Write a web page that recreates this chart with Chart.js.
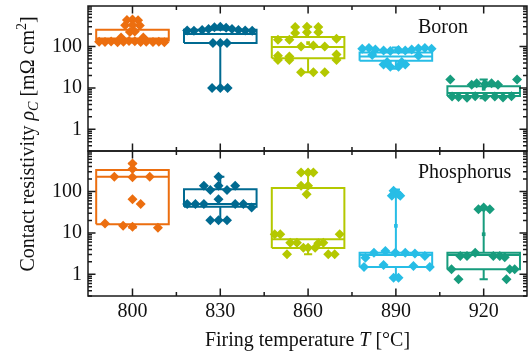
<!DOCTYPE html>
<html>
<head>
<meta charset="utf-8">
<script src="https://cdn.jsdelivr.net/npm/chart.js@4.4.1/dist/chart.umd.min.js"></script>
<style>
  html, body { margin: 0; padding: 0; background: #fff; }
  #wrap { width: 532px; height: 358px; }
</style>
</head>
<body>
<div id="wrap"><canvas id="chart"></canvas></div>
<script>
const temps = [800, 830, 860, 890, 920];
const yTickLabels = [1, 10, 100];

// boron: measured points per temperature, x jitter in °C
const boronValues = [
  [130, 128, 132, 127, 130, 135, 133, 128, 131, 129, 130, 127, 435, 450, 430, 325, 330, 320, 225, 230, 165, 165],
  [245, 240, 250, 265, 290, 300, 285, 265, 250, 245, 240, 121, 121, 121, 10, 10, 10],
  [297, 300, 297, 212, 222, 222, 146, 146, 154, 100, 106, 100, 60, 57, 64, 47, 47, 47, 24, 24, 24],
  [88, 92, 85, 80, 78, 82, 80, 85, 90, 92, 88, 37, 32.5, 32.5, 37, 42, 42, 62, 60],
  [16, 16, 12, 13, 12.5, 13, 12, 6.2, 6.0, 5.8, 6.3, 6.0, 6.2, 5.9, 6.3]
];
const boronOffsets = [
  [-11.4, -9.4, -7.3, -5.1, -3.1, -1.2, 0.8, 2.8, 4.7, 7.0, 9.0, 10.9, -1.9, 0, 1.9, -2.5, 0, 2.5, -0.9, 0.8, -3.9, 3.7],
  [-11.3, -9.0, -6.2, -4.0, -2.0, 0, 2.0, 4.0, 6.2, 8.5, 10.9, -2.5, 0, 2.3, -2.8, 0, 2.5],
  [-4.4, -0.4, 3.5, -4.4, -0.4, 3.5, -10.3, -6.4, 9.7, -2.4, 1.8, 5.7, -10.3, -6.4, 9.7, -10.3, -6.4, 9.7, -2.4, 1.8, 5.7],
  [-11.5, -9.2, -7.0, -4.2, -1.9, 0.9, 3.2, 5.4, 7.7, 9.9, 12.2, -4.2, -1.9, 0.9, 3.2, -3.0, 2.0, -8.1, 7.7],
  [-11.4, 11.4, -4.1, -2.4, 0.5, 2.7, 4.9, -10.8, -8.6, -5.7, -2.9, 0.5, 3.8, 6.6, 9.5]
];
const boronQ1 = [140, 121, 52, 45, 6.4];
const boronMedian = [155, 200, 97, 57, 7.5];
const boronQ3 = [255, 255, 170, 72, 11];
const boronLow = [127, 10, 24, 29, 5.6];
const boronHigh = [450, 300, 300, 95, 16];
const boronMean = [null, null, 121, null, 9.5];

// phosphorus
const phosValues = [
  [476, 348, 227, 220, 227, 65, 50, 16.8, 14.8, 14, 13.4],
  [227, 137, 137, 137, 108, 108, 65, 50, 50, 50, 50, 50, 41, 20.3, 20.3, 20.3],
  [288, 288, 288, 137, 137, 86, 9.3, 9.3, 9.3, 5.8, 5.8, 5.6, 5.8, 4.4, 4.4, 4.4, 3.05, 3.05, 3.05],
  [104, 86, 79, 79, 3.33, 3.66, 3.33, 3.33, 3.17, 2.77, 2.5, 1.5, 1.68, 1.6, 1.5, 0.83, 0.83],
  [37.5, 41, 37.5, 2.77, 2.77, 3.33, 2.77, 2.77, 2.6, 1.32, 1.32, 1.32, 0.76, 0.76]
];
const phosOffsets = [
  [0, 0, -6.2, 0, 5.9, 0, 2.8, -9.4, -3.2, 0, 8.7],
  [-0.6, -5.6, -0.6, 5.1, -3.4, 2.3, -0.6, -11.3, -8.5, -5.6, 5.1, 7.9, 10.7, -3.4, -0.6, 2.3],
  [-2.4, 0, 1.8, -2.4, 0, -0.5, -11.4, -9.5, 10.8, -6.1, -3.8, 3.5, 5.2, -1.6, 0, 2.4, -7.2, 6.9, 9.1],
  [-0.8, 0.9, -1.4, 1.5, -7.5, -3.6, -0.2, 3.2, 6.5, 9.9, -10.4, -10.9, -4.2, 6.0, 11.6, -0.8, 0.9],
  [-1.8, 0, 2.1, -8.0, -5.7, -2.9, 3.3, 5.5, 7.2, -11.0, 8.9, 10.6, -8.6, 7.8]
];
const phosQ1 = [16.2, 43, 4.3, 1.5, 1.32];
const phosMedian = [227, 50, 7.0, 2.93, 2.93];
const phosQ3 = [330, 114, 121, 3.33, 3.33];
const phosLow = [13.4, 20.3, 3.05, 0.83, 0.76];
const phosHigh = [476, 227, 288, 112, 40];
const phosMean = [null, null, null, 14.8, 9.3];

const palette = ['#ec6e0f', '#006a91', '#b4c800', '#27bde6', '#179c7d'];
const serif = '"Liberation Serif", "DejaVu Serif", serif';
const boxHalf = 12.4;   // °C
const capHalf = 1.4;

function groupSets(values, offsets, q1, med, q3, lo, hi, mean, axis) {
  const sets = [];
  temps.forEach((t, i) => {
    const c = palette[i];
    sets.push({
      data: values[i].map((v, k) => ({ x: t + offsets[i][k], y: v })),
      yAxisID: axis, showLine: false, order: 0,
      pointStyle: 'rectRot', pointRadius: 5, pointHoverRadius: 5,
      pointBackgroundColor: c, pointBorderColor: c, pointBorderWidth: 0
    });
    const gap = { x: t, y: null };
    const l = t - boxHalf, r = t + boxHalf;
    sets.push({
      data: [
        { x: l, y: q1[i] }, { x: r, y: q1[i] }, { x: r, y: q3[i] }, { x: l, y: q3[i] }, { x: l, y: q1[i] }, gap,
        { x: l, y: med[i] }, { x: r, y: med[i] }, gap,
        { x: t, y: q3[i] }, { x: t, y: hi[i] }, gap,
        { x: t - capHalf, y: hi[i] }, { x: t + capHalf, y: hi[i] }, gap,
        { x: t, y: q1[i] }, { x: t, y: lo[i] }, gap,
        { x: t - capHalf, y: lo[i] }, { x: t + capHalf, y: lo[i] }
      ],
      yAxisID: axis, order: 1, borderColor: c, borderWidth: 2,
      borderJoinStyle: 'miter', pointRadius: 0, pointHoverRadius: 0, spanGaps: false, tension: 0
    });
    if (mean[i] != null) {
      sets.push({
        data: [{ x: t, y: mean[i] }], yAxisID: axis, showLine: false, order: 0,
        pointStyle: 'rect', pointRadius: 2.6, pointBackgroundColor: c, pointBorderWidth: 0
      });
    }
  });
  return sets;
}

function logTicks(s) {
  const ticks = [];
  for (let e = -1; e <= 2; e++) {
    for (let m = 1; m <= 9; m++) {
      const v = +(m * Math.pow(10, e)).toPrecision(3);
      if (v >= s.min && v <= s.max) ticks.push({ value: v });
    }
  }
  s.ticks = ticks;
}

function yScale() {
  return {
    type: 'logarithmic', min: 0.3, max: 950, position: 'left',
    stack: 'panels', stackWeight: 1, offset: false,
    grid: { display: false, drawTicks: false }, border: { display: false },
    afterBuildTicks: logTicks,
    afterFit: s => { s.width = 88; s.paddingTop = 0; s.paddingBottom = 0; },
    ticks: {
      autoSkip: false, padding: 6, color: '#111',
      font: { family: serif, size: 20 },
      callback: v => (yTickLabels.includes(v) ? String(v) : '')
    }
  };
}

function drawRich(ctx, parts, x, y) {
  let w = 0;
  parts.forEach(p => { ctx.font = p.font; w += ctx.measureText(p.t).width; });
  let cx = x - w / 2;
  parts.forEach(p => {
    ctx.font = p.font;
    ctx.fillText(p.t, cx, y + (p.dy || 0));
    cx += ctx.measureText(p.t).width;
  });
}

const frame = {
  id: 'frame',
  afterDraw(chart) {
    const { ctx, scales } = chart;
    const x = scales.x;
    const minors = temps.slice(1).map((t, i) => (t + temps[i]) / 2);
    ctx.save();
    ctx.strokeStyle = '#1a1a1a';
    ctx.lineWidth = 1.5;
    [scales.yB, scales.yP].forEach(y => {
      ctx.strokeRect(x.left, y.top, x.right - x.left, y.bottom - y.top);
      ctx.beginPath();
      y.ticks.forEach(t => {
        const py = y.getPixelForValue(t.value);
        const len = yTickLabels.includes(t.value) ? 7.5 : 4;
        ctx.moveTo(x.left, py); ctx.lineTo(x.left + len, py);
        ctx.moveTo(x.right, py); ctx.lineTo(x.right - len, py);
      });
      [[temps, 7.5], [minors, 4]].forEach(([vals, len]) => {
        vals.forEach(v => {
          const px = x.getPixelForValue(v);
          ctx.moveTo(px, y.top); ctx.lineTo(px, y.top + len);
          ctx.moveTo(px, y.bottom); ctx.lineTo(px, y.bottom - len);
        });
      });
      ctx.stroke();
    });

    ctx.fillStyle = '#111';
    ctx.textAlign = 'left';
    ctx.textBaseline = 'alphabetic';
    ctx.font = '20px ' + serif;
    ctx.fillText('Boron', 418, scales.yB.top + 27);
    ctx.fillText('Phosphorus', 418, scales.yP.top + 27);

    const reg = '20px ' + serif, ital = 'italic 20px ' + serif;
    const small = '14px ' + serif, smallIt = 'italic 14px ' + serif;
    drawRich(ctx, [
      { t: 'Firing temperature ', font: reg },
      { t: 'T', font: ital },
      { t: ' [°C]', font: reg }
    ], (x.left + x.right) / 2, 346);

    ctx.translate(33.5, 144);
    ctx.rotate(-Math.PI / 2);
    drawRich(ctx, [
      { t: 'Contact resistivity ', font: reg },
      { t: 'ρ', font: ital },
      { t: 'C', font: smallIt, dy: 4 },
      { t: ' [mΩ cm', font: reg },
      { t: '2', font: small, dy: -8 },
      { t: ']', font: reg }
    ], 0, 0);
    ctx.restore();
  }
};

new Chart(document.getElementById('chart'), {
  type: 'line',
  data: {
    datasets: [
      ...groupSets(boronValues, boronOffsets, boronQ1, boronMedian, boronQ3, boronLow, boronHigh, boronMean, 'yB'),
      ...groupSets(phosValues, phosOffsets, phosQ1, phosMedian, phosQ3, phosLow, phosHigh, phosMean, 'yP')
    ]
  },
  options: {
    responsive: true,
    maintainAspectRatio: false,
    animation: false,
    layout: { padding: { top: 6, right: 2, left: 0, bottom: 0 } },
    plugins: { legend: { display: false }, tooltip: { enabled: false } },
    scales: {
      x: {
        type: 'linear', min: 784.8, max: 934.8, position: 'bottom',
        grid: { display: false, drawTicks: false }, border: { display: false },
        afterBuildTicks: s => { s.ticks = temps.map(v => ({ value: v })); },
        afterFit: s => { s.height = 62; s.paddingLeft = 0; s.paddingRight = 0; },
        ticks: { padding: 4, color: '#111', font: { family: serif, size: 20 } }
      },
      yP: yScale(),
      yB: yScale()
    }
  },
  plugins: [frame]
});
</script>
</body>
</html>
